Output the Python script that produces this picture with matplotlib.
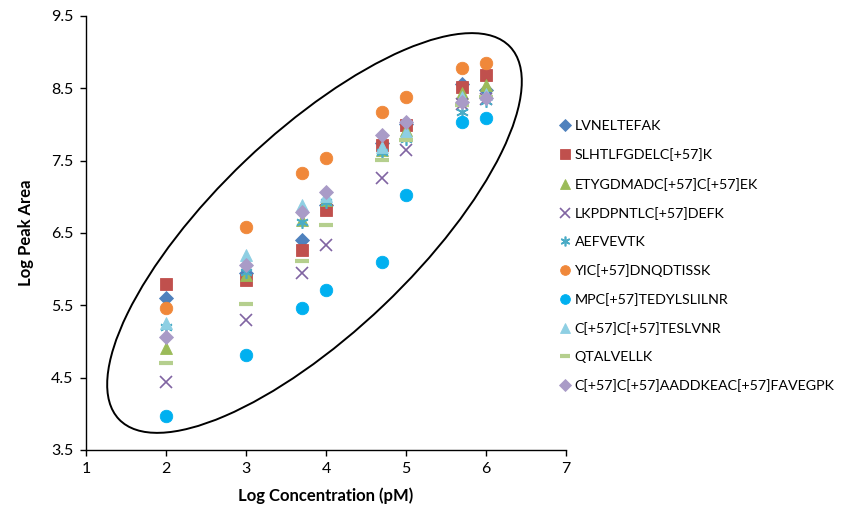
import numpy as np
import matplotlib
matplotlib.use("Agg")
import matplotlib.pyplot as plt
from matplotlib.patches import Ellipse
from matplotlib.transforms import Affine2D

plt.rcParams['font.family'] = ['Lato', 'DejaVu Sans']

# log concentration (pM)
log_conc = [2, 3, 3.699, 4, 4.699, 5, 5.699, 6]

peptides = ["LVNELTEFAK", "SLHTLFGDELC[+57]K", "ETYGDMADC[+57]C[+57]EK",
            "LKPDPNTLC[+57]DEFK", "AEFVEVTK", "YIC[+57]DNQDTISSK",
            "MPC[+57]TEDYLSLILNR", "C[+57]C[+57]TESLVNR", "QTALVELLK",
            "C[+57]C[+57]AADDKEAC[+57]FAVEGPK"]

# log peak area per peptide
lvnel = [5.60, 5.95, 6.40, 6.89, 7.74, 8.00, 8.56, 8.47]
slht = [5.79, 5.85, 6.26, 6.82, 7.72, 7.99, 8.52, 8.68]
etyg = [4.91, 5.92, 6.68, 6.95, 7.65, 7.93, 8.43, 8.55]
lkpd = [4.44, 5.30, 5.95, 6.33, 7.26, 7.65, 8.28, 8.35]
aefv = [5.20, 5.96, 6.65, 6.93, 7.62, 7.80, 8.17, 8.33]
yic = [5.46, 6.58, 7.33, 7.54, 8.17, 8.38, 8.78, 8.85]
mpc = [3.97, 4.81, 5.46, 5.71, 6.10, 7.02, 8.03, 8.09]
cctes = [5.25, 6.19, 6.89, 7.01, 7.69, 7.90, 8.38, 8.42]
qtal = [4.70, 5.52, 6.11, 6.61, 7.51, 7.78, 8.27, 8.38]
ccaad = [5.06, 6.06, 6.79, 7.07, 7.85, 8.03, 8.31, 8.37]

series = [lvnel, slht, etyg, lkpd, aefv, yic, mpc, cctes, qtal, ccaad]

styles = [
    dict(marker='D', color='#4F81BD', ms=7.5),
    dict(marker='s', color='#C0504D', ms=8.5),
    dict(marker='^', color='#9BBB59', ms=9),
    dict(marker='x', color='#8064A2', ms=9, mew=1.2),
    dict(marker=(6, 2, 0), color='#4BACC6', ms=9, mew=1.2),
    dict(marker='o', color='#F0883A', ms=9),
    dict(marker='o', color='#00B0F0', ms=9),
    dict(marker='^', color='#8ECFE3', ms=9),
    dict(marker='_', color='#B5CF8E', ms=10, mew=3),
    dict(marker='D', color='#A99BC7', ms=7.5),
]

fig = plt.figure(figsize=(8.56, 5.21), dpi=100)
ax = fig.add_axes([0.1005, 0.1363, 0.5607, 0.8330])

for name, vals, st in zip(peptides, series, styles):
    ax.plot(log_conc, vals, linestyle='none', marker=st['marker'],
            color=st['color'], markersize=st['ms'],
            markeredgewidth=st.get('mew', 0.6), label=name)

# ellipse drawn in pixel-like units (80 px per x unit, 72.3 px per y unit)
ell = Ellipse((0, 0), 540, 200, angle=43.6, fill=False, edgecolor='black', lw=1.4)
ell.set_transform(Affine2D().scale(1 / 80.0, 1 / 72.3).translate(3.856, 6.50) + ax.transData)
ax.add_patch(ell)

ax.set_xlim(1, 7)
ax.set_ylim(3.5, 9.5)
ax.set_xticks([1, 2, 3, 4, 5, 6, 7])
ax.set_yticks([3.5, 4.5, 5.5, 6.5, 7.5, 8.5, 9.5])
ax.set_yticklabels(['3.5', '4.5', '5.5', '6.5', '7.5', '8.5', '9.5'])
for s in ['top', 'right']:
    ax.spines[s].set_visible(False)
for s in ['left', 'bottom']:
    ax.spines[s].set_color('black')
    ax.spines[s].set_linewidth(1.0)
ax.tick_params(direction='out', length=4, width=1, labelsize=11.5, colors='black', pad=5)

ax.set_xlabel('Log Concentration (pM)', fontsize=12, fontweight='bold', labelpad=8)
ax.set_ylabel('Log Peak Area', fontsize=12, fontweight='bold', labelpad=12)

leg = ax.legend(loc='upper left', bbox_to_anchor=(0.648, 0.780),
                bbox_transform=fig.transFigure, frameon=False, fontsize=10.3,
                labelspacing=1.13, handlelength=0.6, handletextpad=0.4,
                markerscale=0.78, borderaxespad=0)

fig.savefig('out.png', dpi=100)
